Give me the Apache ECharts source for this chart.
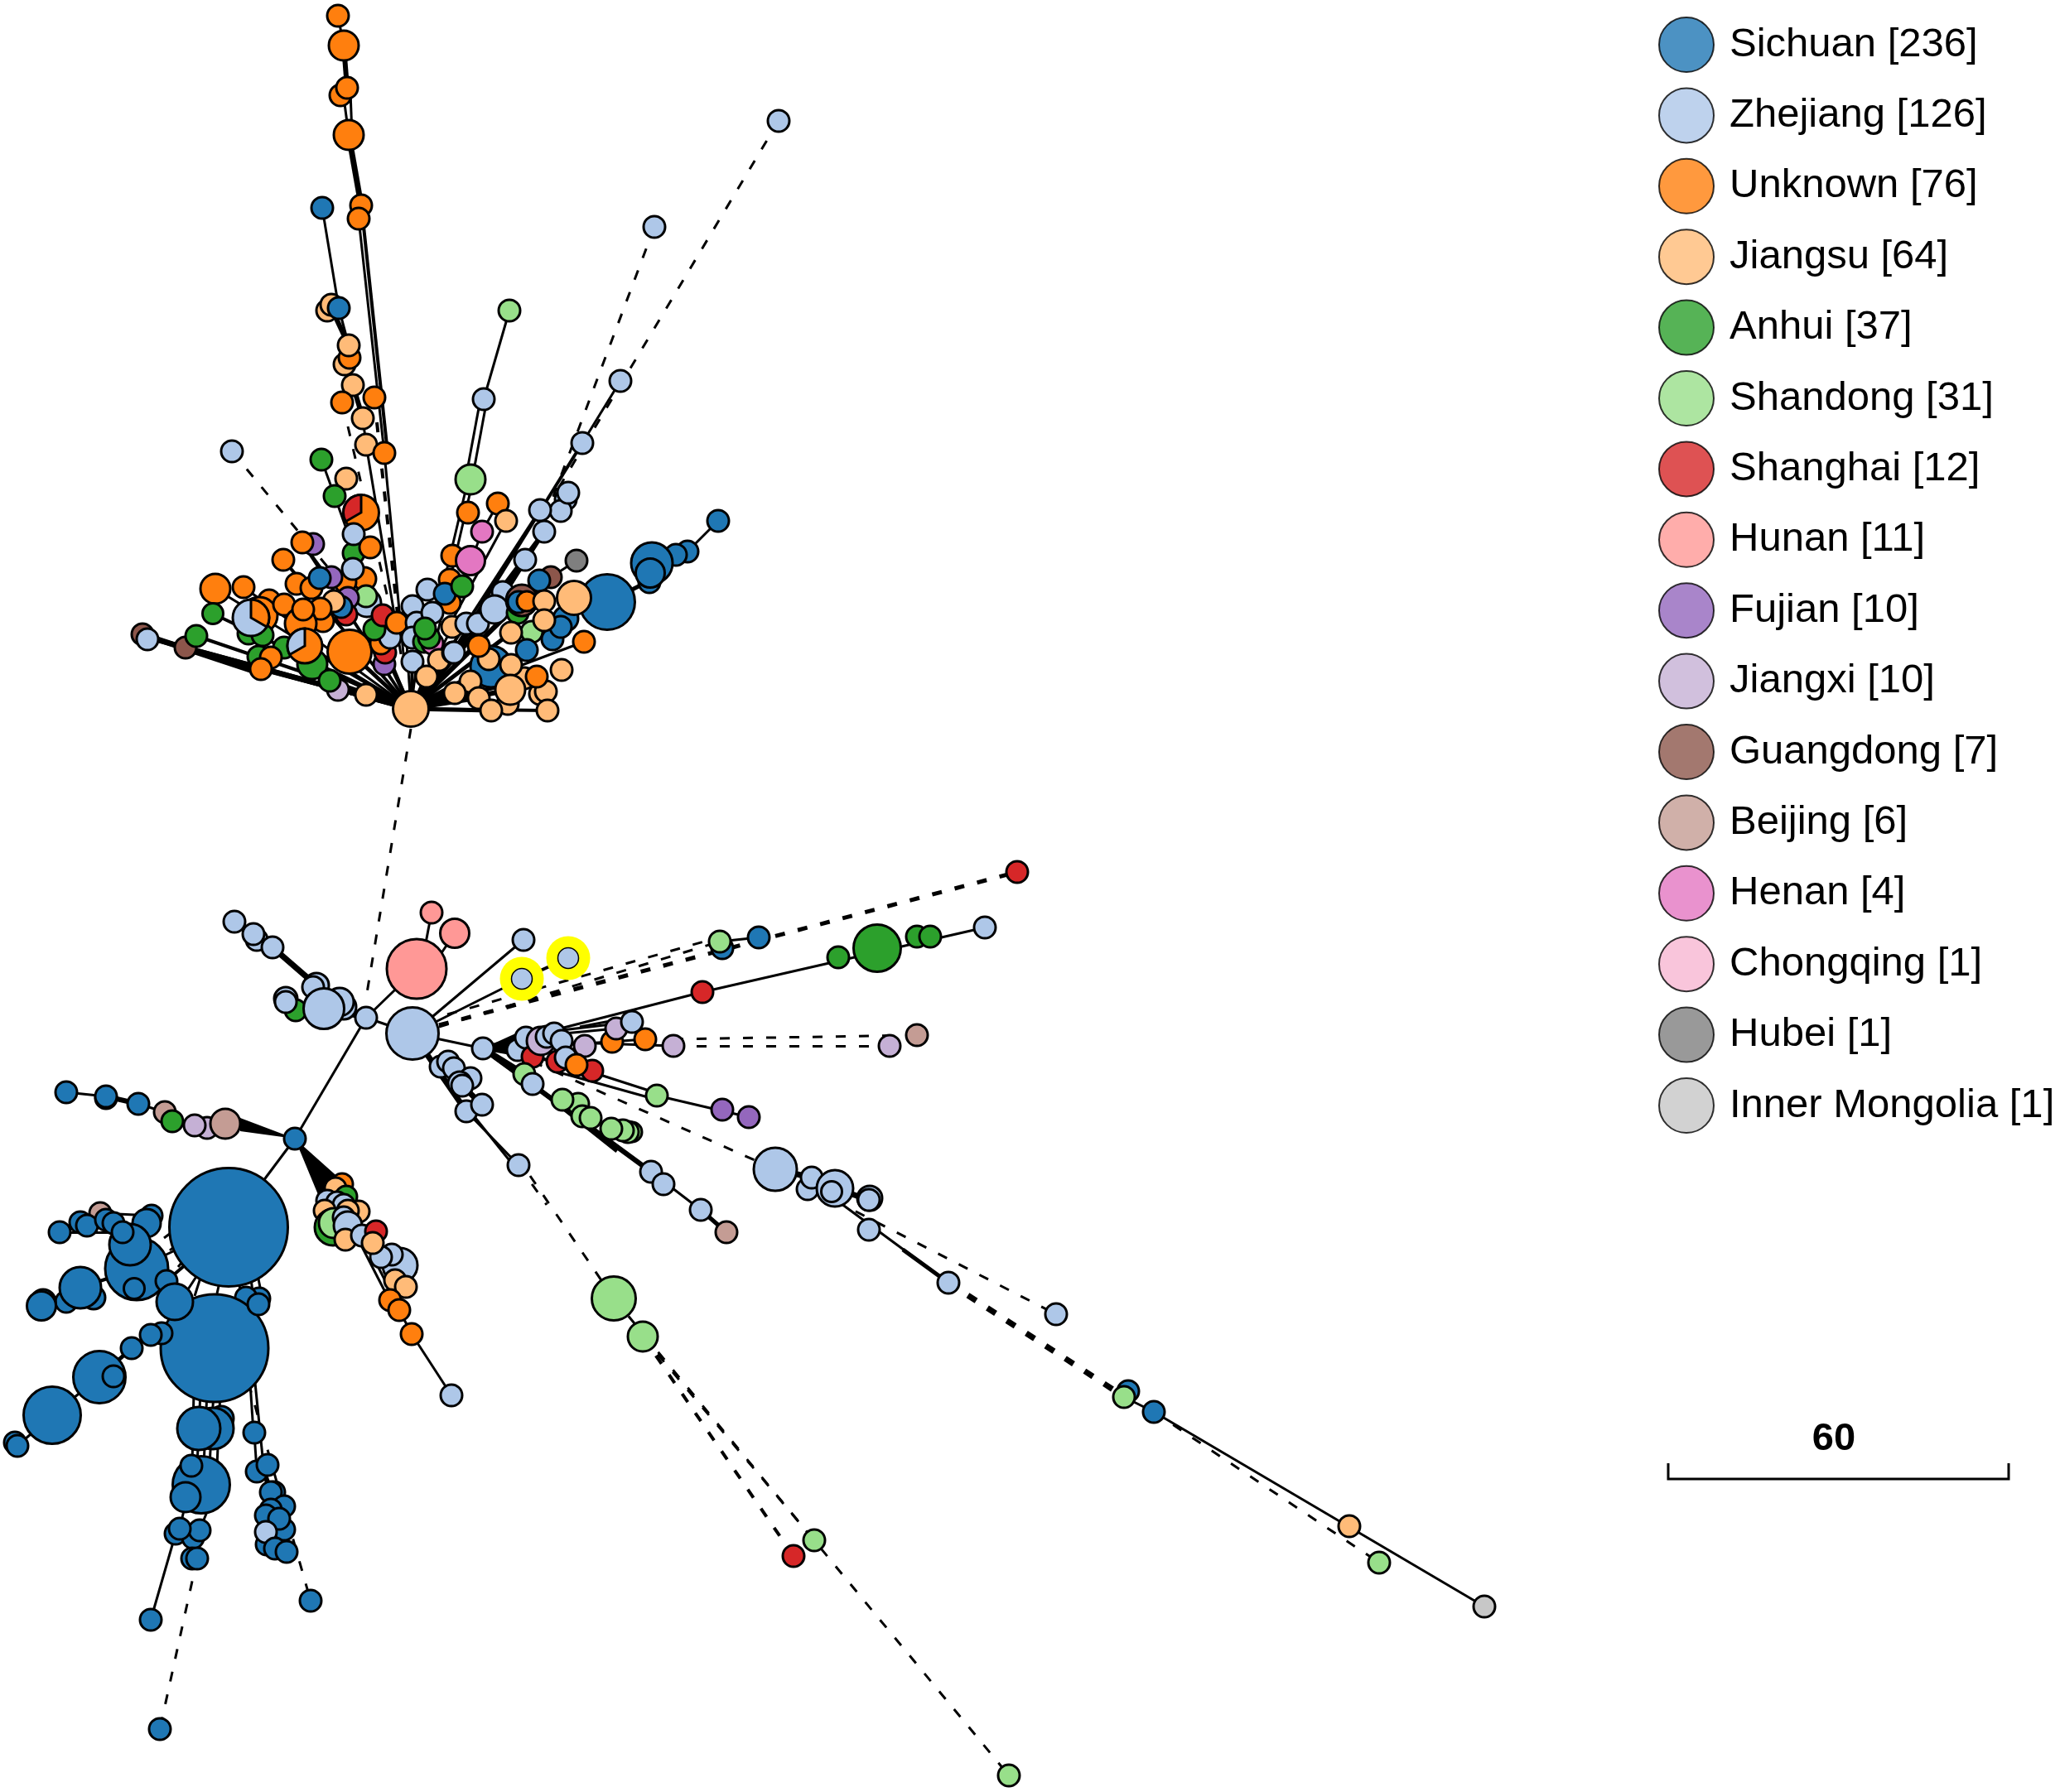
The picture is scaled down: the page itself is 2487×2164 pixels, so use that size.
<!DOCTYPE html>
<html>
<head>
<meta charset="utf-8">
<title>Haplotype network</title>
<script src="https://cdn.jsdelivr.net/npm/echarts@6/dist/echarts.min.js"></script>
<style>
  html, body { margin: 0; padding: 0; background: #fff; }
  #chart { width: 2487px; height: 2164px; }
</style>
</head>
<body>
<div id="chart"></div>
<script>
// region index
const SC=0,ZJ=1,UN=2,JS=3,AH=4,SD=5,SH=6,HN=7,FJ=8,JX=9,GD=10,BJ=11,HA=12,HB=14,IM=15;

const regionNames = ['Sichuan','Zhejiang','Unknown','Jiangsu','Anhui','Shandong','Shanghai','Hunan','Fujian','Jiangxi','Guangdong','Beijing','Henan','Chongqing','Hubei','Inner Mongolia'];
const regionCounts = [236,126,76,64,37,31,12,11,10,10,7,6,4,1,1,1];
const regionColors = ['#1f77b4','#aec7e8','#ff7f0e','#ffbb78','#2ca02c','#98df8a','#d62728','#ff9896','#9467bd','#c5b0d5','#8c564b','#c49c94','#e377c2','#f7b6d2','#7f7f7f','#c7c7c7'];

// nodes: [x, y, size, region, sliceRegion, sliceDegrees] - drawn in this order
const stemNodes = [
  [408,19,26,UN],[415,55,36,UN],[411,115,26,UN],[419,106,26,UN],[421,163,36,UN],
  [389,251,26,SC],[436,248,26,UN],[433,264,26,UN],
  [395,375,26,JS],[400,368,26,JS],[409,372,26,SC],
  [416,440,26,JS],[422,432,26,UN],[421,417,26,JS],[426,465,26,JS],[413,486,26,UN],[452,480,26,UN],
  [438,505,26,JS],[442,537,26,JS],[464,547,26,UN],[388,555,26,AH],
  [615,375,26,SD],[584,482,26,ZJ],[703,535,26,ZJ],[749,460,26,ZJ],[790,274,26,ZJ],[940,146,26,ZJ],[280,545,26,ZJ]
];
const topLeftNodes = [
  [418,578,26,JS],[404,599,26,AH],[436,619,43,UN,SH,-120],
  [427,668,26,AH],[427,645,26,ZJ],[447,661,26,UN],
  [378,657,26,FJ],[365,655,26,UN],[342,676,26,UN],
  [294,709,26,UN],[260,711,36,UN],[257,741,25,AH],[325,725,26,UN],[313,743,44,UN],
  [300,765,26,AH],[317,767,26,AH],[303,746,44,ZJ,UN,120],[343,730,26,UN],[358,705,26,UN],
  [440,699,28,UN],[417,703,26,UN],[400,697,26,FJ],[376,710,26,UN],[386,698,26,SC],[426,687,26,ZJ],
  [443,728,34,ZJ],[442,720,26,SD],[420,722,26,FJ],[418,742,26,SH],[412,733,26,SC],[403,726,26,JS],
  [390,750,26,UN],[387,735,26,UN],[363,753,38,UN],[366,736,26,UN],
  [172,766,26,GD],[178,772,26,ZJ],[224,782,26,GD],[237,768,26,AH],
  [343,782,26,AH],[312,793,26,AH],[327,794,26,UN],[315,808,26,UN],
  [377,802,36,AH],[408,833,26,JX],[398,822,26,AH],[368,780,42,UN,ZJ,-120],[422,787,53,UN],
  [442,839,26,JS],[464,802,26,FJ],[465,788,26,SH],[460,777,26,UN],[471,770,26,ZJ],[452,760,26,AH],[462,743,26,SH],[479,752,26,UN]
];
const topMidNodes = [
  [568,579,36,SD],[565,619,26,UN],[601,608,26,UN],[611,629,26,JS],[582,642,26,HA],
  [546,671,26,UN],[568,677,35,HA],
  [543,700,26,UN],[543,728,26,UN],[516,712,26,ZJ],[498,732,26,ZJ],[537,717,26,SC],[558,708,26,AH],
  [503,752,26,ZJ],[498,770,26,ZJ],[522,740,26,ZJ],[512,775,26,AH],[522,777,26,HA],[518,770,26,AH],[513,759,26,AH],
  [530,797,26,JS],[546,757,26,JS],[547,788,26,ZJ],[498,799,26,ZJ],[515,817,26,JS]
];
const topRightNodes = [
  [683,603,26,ZJ],[677,617,26,ZJ],[686,595,26,ZJ],[652,616,26,ZJ],[657,642,26,ZJ],[634,676,26,ZJ],
  [867,629,26,SC],[830,666,26,SC],[816,670,26,SC],[784,703,26,SC],[787,680,50,SC],[785,692,35,SC],
  [696,677,26,HB],[665,697,26,GD],[651,701,26,SC],
  [607,715,26,ZJ],[563,753,26,ZJ],[577,753,26,ZJ],[597,736,34,ZJ],
  [625,740,26,AH],[630,725,38,GD],[626,727,26,SC],[636,726,24,UN],
  [683,747,30,SC],[733,727,67,SC],[667,772,26,SC],[677,757,26,SC],[693,722,41,JS],
  [657,726,26,JS],[642,763,26,SD],[657,749,26,JS],[617,764,26,JS],[636,785,26,SC],[705,775,26,UN],
  [678,809,26,JS],[652,838,26,JS],[659,835,26,JS],[633,819,26,JS],[648,817,26,UN],
  [593,805,50,SC],[590,796,26,JS],[578,780,26,UN],[548,788,26,ZJ],[617,803,26,JS],
  [613,850,26,JS],[568,823,26,JS],[616,833,36,JS],[549,837,26,JS],[578,843,26,JS],[593,858,26,JS],[661,858,26,JS],
  [496,856,43,JS]
];
const lowerCenterNodes = [
  [283,1113,26,ZJ],[310,1135,26,ZJ],[306,1128,26,ZJ],[329,1144,26,ZJ],
  [382,1190,30,ZJ],[378,1192,26,ZJ],[345,1206,28,ZJ],[357,1220,26,AH],[345,1210,26,ZJ],
  [415,1216,30,ZJ],[410,1210,34,ZJ],[391,1218,49,ZJ],[442,1229,26,ZJ],
  [521,1102,26,HN],[549,1127,35,HN],[503,1170,72,HN],[498,1248,63,ZJ],[632,1135,26,ZJ],
  [916,1132,26,SC],[872,1145,26,SC],[869,1137,26,SD],[848,1198,26,SH],
  [1012,1156,26,AH],[1107,1131,26,AH],[1123,1131,26,AH],[1059,1145,57,AH],[1189,1120,26,ZJ],[1228,1053,26,SH],
  [1107,1250,26,BJ],[1074,1263,26,JX]
];
const eastCrowdNodes = [
  [532,1288,26,ZJ],[541,1282,26,ZJ],[548,1290,26,ZJ],[568,1302,26,ZJ],[555,1308,28,ZJ],[558,1311,26,ZJ],[563,1342,26,ZJ],[582,1334,26,ZJ],
  [626,1407,26,ZJ],[583,1266,26,ZJ],
  [625,1268,26,ZJ],[635,1253,26,ZJ],[643,1276,26,SH],[653,1257,34,JX],[660,1252,26,ZJ],[669,1248,26,ZJ],[678,1257,26,ZJ],
  [739,1258,26,UN],[744,1242,26,JX],[763,1234,26,ZJ],[779,1255,26,UN],[813,1263,26,JX],[706,1263,26,JX],
  [673,1282,26,SH],[683,1277,26,ZJ],[715,1293,26,SH],[696,1286,26,UN],
  [633,1297,26,SD],[643,1309,26,ZJ],[793,1323,26,SD],[872,1340,26,FJ],[904,1349,26,FJ],
  [698,1333,26,SD],[703,1348,26,SD],[679,1328,26,SD],[713,1350,26,SD],
  [763,1367,24,SD],[758,1367,26,SD],[752,1365,26,SD],[738,1363,26,SD],
  [786,1415,26,ZJ],[801,1430,26,ZJ],[846,1461,26,ZJ],[877,1488,26,BJ]
];
const farEastNodes = [
  [936,1412,52,ZJ],[975,1436,26,ZJ],[980,1422,26,ZJ],[1008,1435,44,ZJ],[1004,1439,25,ZJ],
  [1050,1447,30,ZJ],[1049,1449,26,ZJ],[1049,1485,26,ZJ],[1145,1549,26,ZJ],[1275,1587,26,ZJ],
  [1362,1680,26,SC],[1357,1687,26,SD],[1393,1705,26,SC],
  [1629,1843,26,JS],[1665,1887,26,SD],[1792,1940,26,IM],
  [741,1568,53,SD],[776,1614,36,SD],[983,1860,26,SD],[958,1879,26,SH],[1218,2144,26,SD]
];
const westChainNodes = [
  [80,1319,26,SC],[128,1326,26,SC],[128,1324,26,SC],[167,1333,26,SC],
  [199,1343,26,BJ],[208,1354,26,AH],[250,1362,26,JX],[272,1357,36,BJ],[235,1359,26,JX],[356,1375,26,SC]
];
const southNodes = [
  [413,1430,26,UN],[405,1435,26,JS],[418,1445,26,AH],[395,1450,26,ZJ],[407,1452,26,ZJ],[415,1455,26,ZJ],
  [433,1463,26,JS],[392,1462,26,JS],[420,1462,26,JS],[402,1482,44,AH],[403,1477,36,SD],[415,1470,26,ZJ],[420,1480,34,ZJ],
  [417,1497,26,JS],[483,1528,42,ZJ],[473,1515,26,ZJ],[460,1518,26,ZJ],[437,1492,26,ZJ],[454,1487,26,SH],[450,1501,26,JS],
  [477,1546,26,JS],[490,1554,26,JS],[471,1570,26,UN],[482,1582,26,UN],[497,1611,26,UN],[545,1685,26,ZJ]
];
const blueWestNodes = [
  [121,1465,26,BJ],[183,1468,26,SC],[177,1477,34,SC],[72,1488,26,SC],[97,1476,26,SC],[105,1480,26,SC],
  [165,1532,76,SC],[157,1503,50,SC],[128,1473,26,SC],[137,1477,26,SC],[148,1488,26,SC],[162,1556,25,SC],
  [276,1482,143,SC],[201,1547,26,SC],
  [313,1568,26,SC],[297,1567,26,SC],[113,1567,28,SC],[80,1572,26,SC],[97,1555,50,SC],[52,1572,30,SC],[50,1577,35,SC],
  [259,1628,130,SC],[211,1572,44,SC],[312,1575,26,SC],
  [195,1610,26,SC],[182,1612,26,SC],[159,1628,26,SC],[120,1663,63,SC],[137,1662,26,SC],
  [63,1709,69,SC],[18,1742,26,SC],[21,1746,26,SC]
];
const blueSouthNodes = [
  [267,1713,30,SC],[257,1725,50,SC],[240,1725,52,SC],[243,1793,69,SC],[231,1770,26,SC],[224,1808,36,SC],
  [212,1852,26,SC],[233,1857,26,SC],[241,1848,26,SC],[217,1846,26,SC],[232,1882,26,SC],[238,1882,26,SC],[182,1956,26,SC],[193,2088,26,SC],
  [307,1730,26,SC],[310,1777,26,SC],[323,1769,26,SC],[331,1802,26,SC],[327,1802,26,SC],[343,1819,26,SC],[327,1823,26,SC],[321,1830,26,SC],
  [343,1847,26,SC],[337,1834,26,SC],[322,1865,26,SC],[321,1850,26,ZJ],[332,1870,26,SC],[346,1874,26,SC],[375,1933,26,SC]
];

// the two sequences ringed in yellow: [x, y]
const ringedNodes = [[630,1182],[686,1157]];

// spokes from the root of the top cluster: [x, y, width]
const topRoot = [496,856];
const topSpokes = [
  [172,768,6],[224,782,6],[237,768,4],[257,741,4],[260,711,3],[294,709,3],[342,676,4],[365,655,4],
  [315,808,5],[368,780,5],[377,802,5],[398,822,5],[422,787,5],[442,839,7],[426,687,3],[465,788,5],
  [488,730,3],[498,799,4],[506,780,3],[515,817,4],[525,790,3],[548,837,5],[567,827,6],[578,843,5],
  [593,858,5],[661,858,4],[592,805,7],[616,833,6],[597,736,7],[630,725,6],[652,616,4],[657,642,5],
  [634,676,4],[648,817,5],[617,764,5],[546,757,3]
];
const solidEdges = [
  [408,19,415,55,3],[415,55,419,106,6],[414,110,421,163,3],[423,110,425,163,3],[421,163,436,248,7],
  [433,264,464,547,3],[438,264,468,547,4],[389,251,409,372,3],[400,372,421,417,6],[409,372,421,417,3],
  [426,465,438,505,6],[438,505,442,537,3],[464,547,488,800,3],[442,537,484,790,3],
  [388,555,404,599,3],[404,599,440,700,3],[427,668,480,780,3],
  [615,375,584,482,3],[580,482,562,579,3],[588,482,570,579,3],[565,580,520,770,3],[571,580,527,770,3],
  [601,608,582,642,3],[611,629,540,760,3],[582,642,545,740,3],
  [749,460,703,535,3],[703,535,545,790,4],[657,642,575,770,5],[634,676,590,750,5],
  [867,629,830,666,3],[816,670,787,680,3],[787,700,733,727,5],[696,677,665,697,3],[705,775,625,805,3],
  [342,676,378,720,3],[365,655,398,700,3],[172,766,320,815,7],
  // centre of the lower network
  [356,1375,442,1229,3],[442,1229,503,1170,3],[442,1229,498,1248,3],[356,1375,276,1482,3],
  [521,1102,508,1170,3],[549,1127,520,1170,3],[498,1248,632,1135,3],[498,1248,630,1182,3],[630,1182,686,1157,4],
  [498,1248,583,1266,3],[329,1144,382,1190,7],[283,1113,310,1135,5],[310,1135,329,1144,5],
  [391,1218,442,1229,6],[345,1210,391,1218,4],
  [498,1248,563,1342,7],[558,1311,582,1334,7],[563,1342,626,1407,3],[570,1345,626,1415,3],
  // east arm
  [583,1266,848,1198,3],[848,1198,1189,1120,3],[660,1258,813,1263,3],[660,1250,744,1242,3],[670,1245,763,1234,3],[680,1262,779,1255,3],[700,1240,763,1228,3],
  [669,1280,793,1320,3],[675,1295,793,1328,3],[793,1323,904,1349,3],
  [583,1266,633,1297,7],[583,1266,643,1309,6],[583,1266,625,1268,8],[583,1266,635,1253,6],[583,1266,653,1257,5],[583,1266,669,1248,4],[583,1266,673,1282,4],
  [583,1266,786,1415,6],[643,1309,745,1390,5],[786,1415,846,1461,3],[846,1461,877,1488,5],
  [936,1412,980,1422,7],[1008,1435,1049,1449,7],[1004,1445,1145,1549,3],[1145,1549,1090,1509,5],
  [869,1137,916,1132,3],[1357,1687,1393,1705,3],[1393,1705,1792,1940,3],
  // south cluster
  [497,1611,545,1685,3],[482,1582,497,1611,3],[437,1492,475,1566,3],[430,1492,468,1566,3],
  // blue clusters
  [80,1319,128,1324,3],[128,1324,167,1333,6],[167,1333,199,1343,3],
  [159,1628,120,1663,5],[182,1612,159,1628,5],[259,1628,182,1612,6],[120,1663,63,1709,3],[63,1709,21,1746,3],
  [50,1577,97,1555,6],[97,1555,165,1532,4],[72,1488,148,1488,3],[148,1488,183,1468,3],[121,1465,183,1468,3],
  [276,1482,201,1547,4],[270,1482,165,1532,3],[245,1460,198,1495,3],[250,1470,205,1510,3],[255,1480,215,1530,3],
  [276,1482,225,1560,3],[262,1480,235,1565,3],[280,1482,262,1562,3],[285,1482,290,1565,3],[295,1482,305,1560,3],[300,1482,315,1560,3],
  [234,1680,232,1770,3],[242,1680,238,1770,3],[250,1680,246,1770,3],[258,1680,253,1770,3],[266,1680,262,1770,3],
  [228,1780,220,1810,3],[236,1780,228,1810,3],[224,1815,217,1846,3],[249,1828,241,1848,3],[212,1852,182,1956,3],
  [302,1670,306,1730,3],[308,1670,318,1769,3],[307,1730,310,1777,3],[318,1775,327,1802,6]
];
const dashedEdges = [
  [420,515,470,730,3],[455,510,482,760,4],[280,545,400,690,3],
  [940,146,668,600,3],[790,274,664,610,3],[496,880,442,1205,3],
  [530,1238,1228,1053,5],[530,1240,869,1137,3],[540,1225,864,1133,3],
  [813,1255,1107,1250,3],[813,1263,1074,1263,3],
  [936,1412,620,1272,3],[640,1420,741,1568,3],[626,1407,660,1455,3],
  [776,1614,983,1860,3],[776,1614,958,1879,4],[741,1568,1218,2144,3],
  [1145,1549,1350,1682,7],[1008,1450,1275,1587,3],[1393,1705,1665,1887,3],
  [238,1882,193,2088,3],[300,1670,375,1933,3]
];
// filled fans where many parallel branches merge: [x1,y1,x2,y2,x3,y3]
const wedges = [
  [356,1375,385,1445,412,1425],
  [356,1375,290,1350,290,1366],
  [583,1266,640,1240,640,1252]
];

const allNodes = [].concat(
  stemNodes, topLeftNodes, topMidNodes, topRightNodes, westChainNodes, lowerCenterNodes,
  eastCrowdNodes, farEastNodes, southNodes, blueWestNodes, blueSouthNodes
);

function edgeItems(list, type) {
  return list.map(e => ({
    coords: [[e[0], e[1]], [e[2], e[3]]],
    lineStyle: { width: e[4], type: type }
  }));
}

function renderNode(params, api) {
  const c = api.coord([api.value(0), api.value(1)]);
  const d = api.value(2);
  const border = { stroke: '#000', lineWidth: 3 };
  const circle = {
    type: 'circle',
    shape: { cx: c[0], cy: c[1], r: d / 2 },
    style: Object.assign({ fill: regionColors[api.value(3)] }, border)
  };
  const sliceDeg = allNodes[params.dataIndex][5];
  if (!sliceDeg) return circle;
  const start = -Math.PI / 2;
  return {
    type: 'group',
    children: [circle, {
      type: 'sector',
      shape: {
        cx: c[0], cy: c[1], r: d / 2, r0: 0,
        startAngle: start,
        endAngle: start + sliceDeg * Math.PI / 180,
        clockwise: sliceDeg > 0
      },
      style: Object.assign({ fill: regionColors[allNodes[params.dataIndex][4]] }, border)
    }]
  };
}

function renderRinged(params, api) {
  const c = api.coord([api.value(0), api.value(1)]);
  return {
    type: 'group',
    children: [
      { type: 'circle', shape: { cx: c[0], cy: c[1], r: 26.5 }, style: { fill: '#ffff00' } },
      { type: 'circle', shape: { cx: c[0], cy: c[1], r: 12.5 }, style: { fill: regionColors[ZJ], stroke: '#000', lineWidth: 1.5 } }
    ]
  };
}

function renderWedge(params, api) {
  const pts = [[0, 1], [2, 3], [4, 5]].map(i => api.coord([api.value(i[0]), api.value(i[1])]));
  return { type: 'polygon', shape: { points: pts }, style: { fill: '#000' } };
}

const legendLabels = regionNames.map((n, i) => `${n} [${regionCounts[i]}]`);

const chart = echarts.init(document.getElementById('chart'), null, { renderer: 'canvas' });
chart.setOption({
  backgroundColor: '#fff',
  animation: false,
  grid: { left: 0, right: 0, top: 0, bottom: 0 },
  xAxis: { type: 'value', min: 0, max: 2487, show: false },
  yAxis: { type: 'value', min: 0, max: 2164, inverse: true, show: false },
  legend: {
    data: legendLabels,
    orient: 'vertical',
    left: 2002,
    top: 20,
    icon: 'circle',
    itemWidth: 66,
    itemHeight: 66,
    itemGap: 17.4,
    selectedMode: false,
    padding: 0,
    itemStyle: { borderColor: '#000', borderWidth: 2 },
    textStyle: { fontFamily: 'Liberation Sans', fontSize: 49, color: '#000', padding: [0, 0, 0, 14] }
  },
  graphic: [
    {
      type: 'polyline',
      shape: { points: [[2014, 1767], [2014, 1786], [2425, 1786], [2425, 1767]] },
      style: { stroke: '#000', lineWidth: 3, fill: null }
    },
    {
      type: 'text',
      x: 2214, y: 1738,
      style: {
        text: '60', fontFamily: 'Liberation Sans', fontWeight: 'bold', fontSize: 47,
        fill: '#000', align: 'center', verticalAlign: 'middle'
      }
    }
  ],
  series: [
    {
      type: 'lines', coordinateSystem: 'cartesian2d', silent: true, z: 1,
      lineStyle: { color: '#000', opacity: 1 },
      data: edgeItems(solidEdges, 'solid').concat(
        edgeItems(topSpokes.map(s => [topRoot[0], topRoot[1], s[0], s[1], s[2]]), 'solid'))
    },
    {
      type: 'lines', coordinateSystem: 'cartesian2d', silent: true, z: 1,
      lineStyle: { color: '#000', opacity: 1 },
      data: edgeItems(dashedEdges, [12, 16])
    },
    {
      type: 'custom', coordinateSystem: 'cartesian2d', silent: true, z: 2, clip: false,
      renderItem: renderWedge, data: wedges
    },
    {
      type: 'custom', coordinateSystem: 'cartesian2d', silent: true, z: 3, clip: false,
      renderItem: renderRinged, data: ringedNodes
    },
    {
      type: 'custom', coordinateSystem: 'cartesian2d', silent: true, z: 4, clip: false,
      encode: { x: 0, y: 1 },
      renderItem: renderNode,
      data: allNodes.map(n => n.slice(0, 4))
    }
  ].concat(legendLabels.map((name, i) => ({
    type: 'scatter', name: name, data: [],
    itemStyle: { color: regionColors[i] }
  })))
});
</script>
</body>
</html>
